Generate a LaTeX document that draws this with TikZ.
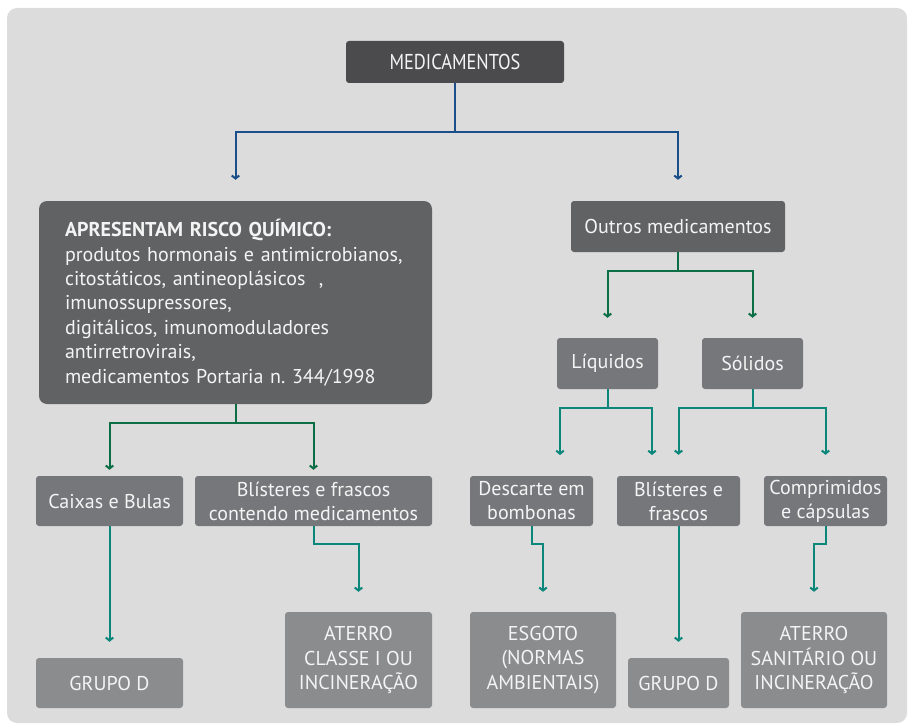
\documentclass[tikz,border=0pt]{standalone}
\usepackage{fontspec}
\setmainfont{PT Sans}
\usetikzlibrary{arrows.meta}
\definecolor{bgc}{HTML}{DCDCDC}
\definecolor{c0}{HTML}{4B4B4D}
\definecolor{c1}{HTML}{616264}
\definecolor{c2}{HTML}{75777A}
\definecolor{c3}{HTML}{8B8C8E}
\definecolor{lblue}{HTML}{1B4F8A}
\definecolor{lgreen}{HTML}{0B6E45}
\definecolor{lteal}{HTML}{0A867A}
\definecolor{txt}{HTML}{F4F4F4}
\begin{document}
\begin{tikzpicture}[x=1pt,y=-1pt,
  box/.style={rectangle, rounded corners=3pt, inner sep=0pt, text=txt, align=center,
    font=\fontsize{20}{24}\selectfont},
  lv0/.style={box, fill=c0},
  lv1/.style={box, fill=c1},
  lv2/.style={box, fill=c2},
  lv3/.style={box, fill=c3},
  conn/.style={line width=2pt, -{Straight Barb[length=3pt,width=7.5pt]}},
  cblue/.style={conn, draw=lblue},
  cgreen/.style={conn, draw=lgreen},
  cteal/.style={conn, draw=lteal}]
\useasboundingbox (0,0) rectangle (908,725);
\fill[bgc, rounded corners=10pt] (7,8) rectangle (907,723);

% nodes
\node[lv0, minimum width=218pt, minimum height=42pt, font=\fontsize{21.5}{24}\selectfont] (med) at (455,62)
  {\scalebox{0.855}[1]{MEDICAMENTOS}};
\node[lv1, rounded corners=8pt, minimum width=393pt, minimum height=203pt,
  text width=341pt, inner xsep=26pt, align=left,
  font=\fontsize{20}{24.4}\selectfont] (risk) at (235.5,302.5)
  {\textbf{APRESENTAM RISCO QUÍMICO:}\\
   produtos hormonais e antimicrobianos,\\
   citostáticos, antineoplásicos~ ,\\
   imunossupressores,\\
   digitálicos, imunomoduladores\\
   antirretrovirais,\\
   medicamentos Portaria n.\ 344/1998};
\node[lv1, minimum width=214pt, minimum height=51pt] (outros) at (678,226.5) {Outros medicamentos};
\node[lv2, minimum width=101pt, minimum height=51pt] (liq) at (607.5,363.5) {Líquidos};
\node[lv2, minimum width=101pt, minimum height=51pt] (sol) at (752.5,363.5) {Sólidos};

\node[lv2, minimum width=147pt, minimum height=50pt] (caixas) at (109.5,501) {Caixas e Bulas};
\node[lv2, minimum width=237pt, minimum height=50pt] (blcont) at (313.5,501) {Blísteres e frascos\\contendo medicamentos};
\node[lv2, minimum width=123pt, minimum height=50pt] (desc) at (531.5,501) {Descarte em\\bombonas};
\node[lv2, minimum width=123pt, minimum height=50pt] (blfr) at (678.5,501) {Blísteres e\\frascos};
\node[lv2, minimum width=123pt, minimum height=50pt] (comp) at (825.5,501) {Comprimidos\\e cápsulas};

\node[lv3, minimum width=147pt, minimum height=50pt] (gd1) at (109.5,683) {GRUPO D};
\node[lv3, minimum width=147pt, minimum height=96pt, font=\fontsize{20}{24.5}\selectfont] (at1) at (358.5,660) {ATERRO\\CLASSE I OU\\INCINERAÇÃO};
\node[lv3, minimum width=146pt, minimum height=96pt, font=\fontsize{20}{24.5}\selectfont] (esg) at (543,660) {ESGOTO\\(NORMAS\\AMBIENTAIS)};
\node[lv3, minimum width=101pt, minimum height=50pt] (gd2) at (678.5,683) {GRUPO D};
\node[lv3, minimum width=146pt, minimum height=96pt, font=\fontsize{20}{24.5}\selectfont] (at2) at (814,660) {ATERRO\\SANITÁRIO OU\\INCINERAÇÃO};

% free ends for offset arrows
\coordinate (la) at (560,476);
\coordinate (lb) at (652,476);

% connectors
\draw[cblue, shorten >=21pt] (med.south) -- ++(0,49) -| (risk.north);
\draw[cblue, shorten >=21pt] (med.south) -- ++(0,49) -| (outros.north);

\draw[cgreen, shorten >=6pt] (risk.south) -- ++(0,19) -| (caixas.north);
\draw[cgreen, shorten >=6pt] (risk.south) -- ++(0,19) -| (blcont.north);

\draw[cgreen, shorten >=20pt] (outros.south) -- ++(0,19) -| (liq.north);
\draw[cgreen, shorten >=20pt] (outros.south) -- ++(0,19) -| (sol.north);

\draw[cteal, shorten >=21pt] (liq.south) -- ++(0,19) -| (la);
\draw[cteal, shorten >=21pt] (liq.south) -- ++(0,19) -| (lb);
\draw[cteal, shorten >=21pt] (sol.south) -- ++(0,19) -| (blfr.north);
\draw[cteal, shorten >=21pt] (sol.south) -- ++(0,19) -| (comp.north);

\draw[cteal, shorten >=16pt] (caixas.south) -- (gd1.north);
\draw[cteal, shorten >=20pt] (blcont.south) -- ++(0,18) -| (at1.north);
\draw[cteal, shorten >=20pt] (desc.south) -- ++(0,18) -| (esg.north);
\draw[cteal, shorten >=16pt] (blfr.south) -- (gd2.north);
\draw[cteal, shorten >=20pt] (comp.south) -- ++(0,18) -| (at2.north);
\end{tikzpicture}
\end{document}
